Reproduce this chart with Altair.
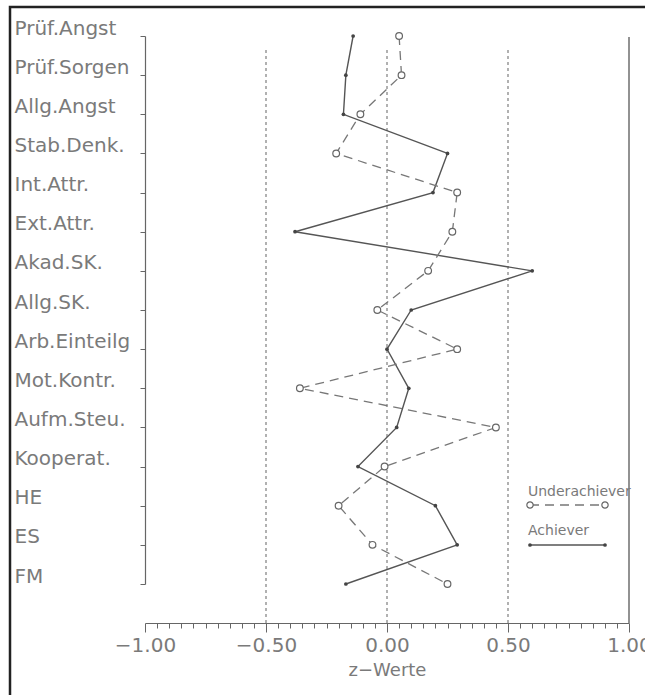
import altair as alt
import pandas as pd

# ---------------- data ----------------
categories = ["Prüf.Angst", "Prüf.Sorgen", "Allg.Angst", "Stab.Denk.", "Int.Attr.",
              "Ext.Attr.", "Akad.SK.", "Allg.SK.", "Arb.Einteilg", "Mot.Kontr.",
              "Aufm.Steu.", "Kooperat.", "HE", "ES", "FM"]
achiever = [-0.14, -0.17, -0.18, 0.25, 0.19, -0.38, 0.60, 0.10, 0.00, 0.09,
            0.04, -0.12, 0.20, 0.29, -0.17]
underachiever = [0.05, 0.06, -0.11, -0.21, 0.29, 0.27, 0.17, -0.04, 0.29, -0.36,
                 0.45, -0.01, -0.20, -0.06, 0.25]
ref_dotted = [-0.5, 0.0, 0.5]
ref_solid = [1.0]
x_tick_values = [round(-1 + 0.05 * i, 2) for i in range(41)]

rows = []
for i, c in enumerate(categories):
    rows.append({"cat": c, "idx": i, "z": achiever[i], "series": "Achiever"})
    rows.append({"cat": c, "idx": i, "z": underachiever[i], "series": "Underachiever"})
df = pd.DataFrame(rows)

# ---------------- layout ----------------
W, H = 484, 587
FONT = "DejaVu Sans"
TXT = "#7a7a7a"
AX = "#666666"

major_test = "abs(datum.value*2 - round(datum.value*2)) < 0.001"

xscale = alt.Scale(domain=[-1, 1], nice=False, zero=False)
yscale = alt.Scale(type="point", domain=categories, range=[0, 548], padding=0)

xaxis = alt.Axis(
    values=x_tick_values,
    labelExpr=f"{major_test} ? format(datum.value, '.2f') : ''",
    tickSize={"condition": {"test": major_test, "value": 9}, "value": 5},
    labelFlush=False, labelOverlap=False, grid=False,
    labelFont=FONT, labelFontSize=20, labelColor=TXT, labelPadding=3,
    tickColor=AX, domainColor=AX, tickWidth=1, domainWidth=1.2,
    title="z−Werte", titleFont=FONT, titleFontSize=18, titleFontWeight="normal",
    titleColor=TXT, titlePadding=6,
)
yaxis = alt.Axis(
    title=None, grid=False, labelAlign="left", labelPadding=126, tickSize=5,
    labelBaseline="alphabetic", labelOffset=-2,
    labelFont=FONT, labelFontSize=20, labelColor=TXT, labelLimit=200,
    tickColor=AX, domainColor=AX, domainWidth=1.2,
)

X = lambda: alt.X("z:Q", scale=xscale, axis=xaxis)
Y = lambda: alt.Y("cat:N", scale=yscale, axis=yaxis, sort=categories)

one = alt.Data(values=[{}])

frame = alt.Chart(one).mark_rect(filled=False, stroke="#222222", strokeWidth=2.5).encode(
    x=alt.value(-135), x2=alt.value(700), y=alt.value(-29), y2=alt.value(800)
)

dotted = alt.Chart(pd.DataFrame({"z": ref_dotted})).mark_rule(
    strokeDash=[3, 3], color="#888888", strokeWidth=1.3
).encode(x=X(), y=alt.value(14), y2=alt.value(H))

solid = alt.Chart(pd.DataFrame({"z": ref_solid})).mark_rule(
    color="#777777", strokeWidth=1.6
).encode(x=X(), y=alt.value(1), y2=alt.value(H))

base = alt.Chart(df)

line_ach = base.transform_filter("datum.series == 'Achiever'").mark_line(
    color="#555555", strokeWidth=1.4
).encode(x=X(), y=Y(), order="idx:Q")
line_und = base.transform_filter("datum.series == 'Underachiever'").mark_line(
    color="#777777", strokeWidth=1.3, strokeDash=[9, 6]
).encode(x=X(), y=Y(), order="idx:Q")
pts_ach = base.transform_filter("datum.series == 'Achiever'").mark_circle(
    color="#444444", size=14, opacity=1
).encode(x=X(), y=Y())
pts_und = base.transform_filter("datum.series == 'Underachiever'").mark_point(
    shape="circle", filled=True, fill="white", stroke="#666666", strokeWidth=1.2,
    size=45, opacity=1
).encode(x=X(), y=Y())

# ---------------- legend (drawn) ----------------
LX0, LX1 = 385, 460
leg_txt_u = alt.Chart(one).mark_text(
    align="left", baseline="alphabetic", font=FONT, fontSize=14, color=TXT
).encode(x=alt.value(383), y=alt.value(460), text=alt.value("Underachiever"))
leg_line_u = alt.Chart(one).mark_rule(
    color="#777777", strokeWidth=1.3, strokeDash=[9, 6]
).encode(x=alt.value(LX0), x2=alt.value(LX1), y=alt.value(469))
leg_pt_u1 = alt.Chart(one).mark_point(
    shape="circle", filled=True, fill="white", stroke="#666666", strokeWidth=1.2, size=40, opacity=1
).encode(x=alt.value(LX0), y=alt.value(469))
leg_pt_u2 = alt.Chart(one).mark_point(
    shape="circle", filled=True, fill="white", stroke="#666666", strokeWidth=1.2, size=40, opacity=1
).encode(x=alt.value(LX1), y=alt.value(469))
leg_txt_a = alt.Chart(one).mark_text(
    align="left", baseline="alphabetic", font=FONT, fontSize=14, color=TXT
).encode(x=alt.value(383), y=alt.value(499), text=alt.value("Achiever"))
leg_line_a = alt.Chart(one).mark_rule(color="#555555", strokeWidth=1.4).encode(
    x=alt.value(LX0), x2=alt.value(LX1), y=alt.value(509)
)
leg_pt_a1 = alt.Chart(one).mark_circle(color="#444444", size=14, opacity=1).encode(
    x=alt.value(LX0), y=alt.value(509)
)
leg_pt_a2 = alt.Chart(one).mark_circle(color="#444444", size=14, opacity=1).encode(
    x=alt.value(LX1), y=alt.value(509)
)

chart = alt.layer(
    frame, dotted, solid, line_ach, line_und, pts_ach, pts_und,
    leg_txt_u, leg_line_u, leg_pt_u1, leg_pt_u2,
    leg_txt_a, leg_line_a, leg_pt_a1, leg_pt_a2,
).properties(
    width=W, height=H,
    autosize=alt.AutoSizeParams(type="none"),
    padding={"left": 145, "top": 36, "right": 16, "bottom": 72},
    background="white",
).configure_view(stroke=None)

chart.save("out.html", embed_options={"renderer": "svg", "actions": False})
